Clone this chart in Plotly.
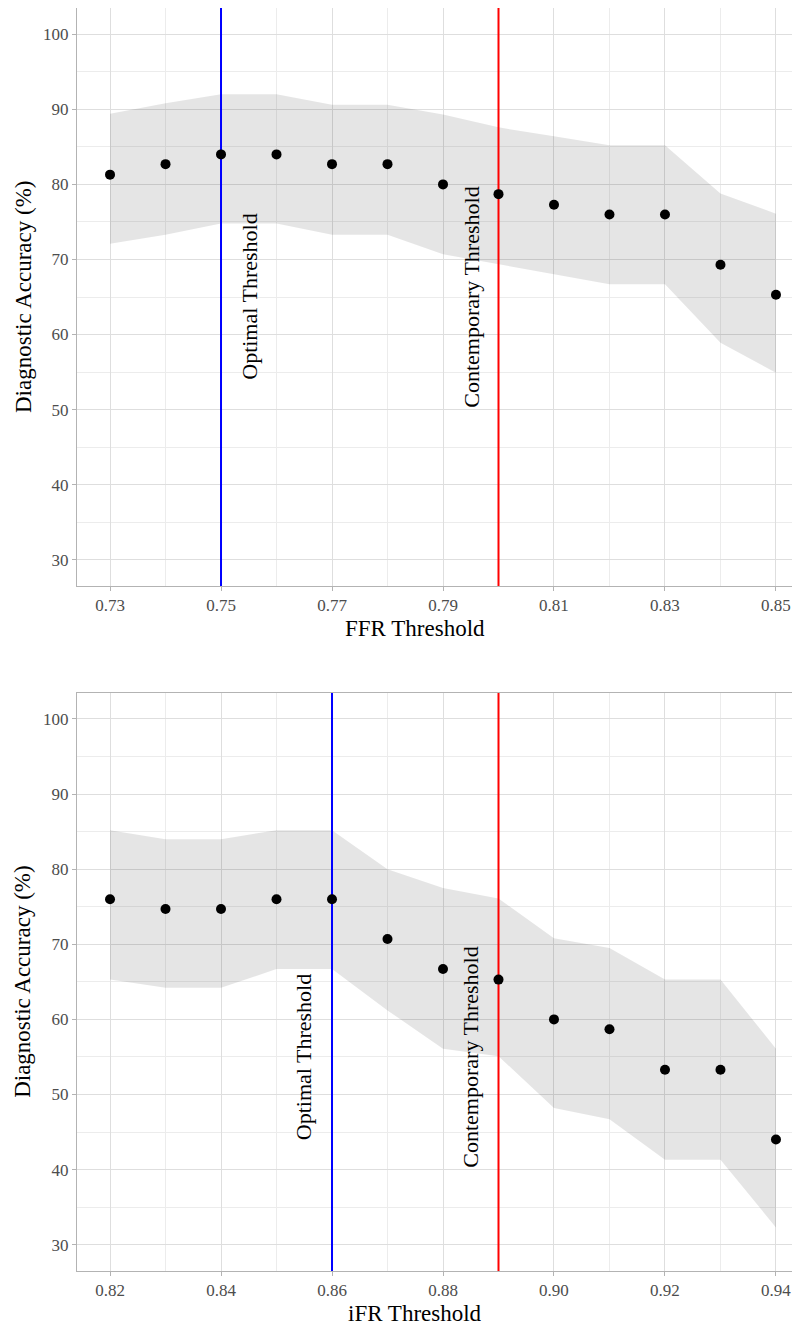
import plotly.graph_objects as go
from plotly.subplots import make_subplots

# ---------------- data ----------------
ffr_x = [0.73, 0.74, 0.75, 0.76, 0.77, 0.78, 0.79, 0.80, 0.81, 0.82, 0.83, 0.84, 0.85]
ffr_acc = [81.3, 82.7, 84.0, 84.0, 82.7, 82.7, 80.0, 78.7, 77.3, 76.0, 76.0, 69.3, 65.3]
ffr_upper = [89.4, 90.8, 92.0, 92.0, 90.6, 90.6, 89.3, 87.6, 86.4, 85.2, 85.2, 78.8, 76.1]
ffr_lower = [72.1, 73.3, 74.8, 74.8, 73.3, 73.3, 70.7, 69.4, 68.0, 66.7, 66.7, 58.9, 54.9]

ifr_x = [0.82, 0.83, 0.84, 0.85, 0.86, 0.87, 0.88, 0.89, 0.90, 0.91, 0.92, 0.93, 0.94]
ifr_acc = [76.0, 74.7, 74.7, 76.0, 76.0, 70.7, 66.7, 65.3, 60.0, 58.7, 53.3, 53.3, 44.0]
ifr_upper = [85.2, 84.0, 84.0, 85.2, 85.2, 80.0, 77.5, 76.1, 70.8, 69.5, 65.3, 65.3, 56.1]
ifr_lower = [65.3, 64.2, 64.2, 66.7, 66.7, 61.2, 56.1, 55.1, 48.2, 46.7, 41.3, 41.3, 32.3]

ffr_optimal, ffr_contemporary = 0.75, 0.80
ifr_optimal, ifr_contemporary = 0.86, 0.89

x_titles = ["FFR Threshold", "iFR Threshold"]
y_title = "Diagnostic Accuracy (%)"
label_optimal = "Optimal Threshold"
label_contemporary = "Contemporary Threshold"
y_limits = [26.5, 103.5]

# ---------------- figure ----------------
FONT = "Liberation Serif, serif"
OFF = 8  # page body margin offset
W, H = 800, 1326
ML, MR, MT, MB = 77 - OFF, 0, 8 - OFF, H - (1271 - OFF)

fig = make_subplots(rows=2, cols=1)

panels = [
    dict(x=ffr_x, acc=ffr_acc, up=ffr_upper, lo=ffr_lower,
         opt=ffr_optimal, con=ffr_contemporary, opt_off=0.005, con_off=-0.005,
         lab_y=65, xr=[0.72405, 0.85577], tick0=0.73, row=1),
    dict(x=ifr_x, acc=ifr_acc, up=ifr_upper, lo=ifr_lower,
         opt=ifr_optimal, con=ifr_contemporary, opt_off=-0.005, con_off=-0.005,
         lab_y=55, xr=[0.81405, 0.94577], tick0=0.82, row=2),
]

for p in panels:
    r = p["row"]
    fig.add_trace(go.Scatter(
        x=p["x"] + p["x"][::-1], y=p["up"] + p["lo"][::-1],
        fill="toself", fillcolor="rgba(0,0,0,0.10)", line=dict(width=0),
        mode="lines", hoverinfo="skip", showlegend=False), row=r, col=1)
    for v, col in ((p["opt"], "#0000ff"), (p["con"], "#ff0000")):
        fig.add_trace(go.Scatter(
            x=[v, v], y=y_limits, mode="lines",
            line=dict(color=col, width=2), hoverinfo="skip", showlegend=False,
            cliponaxis=True), row=r, col=1)
    fig.add_trace(go.Scatter(
        x=p["x"], y=p["acc"], mode="markers",
        marker=dict(color="black", size=10), showlegend=False), row=r, col=1)
    xref = "x" if r == 1 else "x2"
    yref = "y" if r == 1 else "y2"
    fig.add_annotation(x=p["opt"] + p["opt_off"], y=p["lab_y"], xref=xref, yref=yref,
                       xanchor="center", yanchor="middle",
                       text=label_optimal, textangle=-90, showarrow=False,
                       font=dict(family=FONT, size=22, color="black"))
    fig.add_annotation(x=p["con"] + p["con_off"], y=p["lab_y"], xref=xref, yref=yref,
                       xanchor="center", yanchor="middle",
                       text=label_contemporary, textangle=-90, showarrow=False,
                       font=dict(family=FONT, size=22, color="black"))

plot_h = H - MT - MB
def dom_from_screen(top, bottom):
    return [((H - MB) - (bottom - OFF)) / plot_h, ((H - MB) - (top - OFF)) / plot_h]

top_dom = dom_from_screen(8, 586)
bot_dom = dom_from_screen(692.7, 1271)
top_dom = [max(0, top_dom[0]), min(1, top_dom[1])]
bot_dom = [max(0, bot_dom[0]), min(1, bot_dom[1])]

grid_major = "#dedede"
grid_minor = "#ececec"
axis_common = dict(
    showline=True, linecolor="#b3b3b3", linewidth=1,
    ticks="outside", ticklen=4, tickcolor="#b3b3b3", tickwidth=1,
    showgrid=True, gridcolor=grid_major, gridwidth=1, zeroline=False,
    automargin=False,
)

for i, p in enumerate(panels):
    sfx = "" if i == 0 else "2"
    fig.layout["xaxis" + sfx].update(
        range=p["xr"], tick0=p["tick0"], dtick=0.02, tickformat=".2f",
        mirror=True, domain=[0, 1],
        minor=dict(dtick=0.01, tick0=p["tick0"], showgrid=True, gridcolor=grid_minor, gridwidth=1),
        **axis_common)
    fig.layout["yaxis" + sfx].update(
        range=y_limits, tick0=0, dtick=10,
        domain=top_dom if i == 0 else bot_dom,
        minor=dict(dtick=5, tick0=0, showgrid=True, gridcolor=grid_minor, gridwidth=1),
        **axis_common)

fig.update_xaxes(tickfont=dict(family=FONT, size=17, color="#4d4d4d"))
fig.update_yaxes(tickfont=dict(family=FONT, size=17, color="#4d4d4d"))

# axis titles as annotations
for i, p in enumerate(panels):
    dom = top_dom if i == 0 else bot_dom
    fig.add_annotation(x=(415 - 77) / (W - ML - MR), y=dom[0], xref="paper", yref="paper",
                       xanchor="center", yanchor="middle", yshift=-42,
                       text=x_titles[i], showarrow=False,
                       font=dict(family=FONT, size=23, color="black"))
    fig.add_annotation(x=0, y=(dom[0] + dom[1]) / 2, xref="paper", yref="paper",
                       xanchor="center", yanchor="middle", xshift=-(77 - 23),
                       text=y_title, textangle=-90,
                       showarrow=False, font=dict(family=FONT, size=23, color="black"))

fig.update_layout(
    width=W, height=H,
    margin=dict(l=ML, r=MR, t=MT, b=MB, autoexpand=False),
    paper_bgcolor="white", plot_bgcolor="white",
    font=dict(family=FONT),
    showlegend=False,
)

fig.write_html("out.html")
